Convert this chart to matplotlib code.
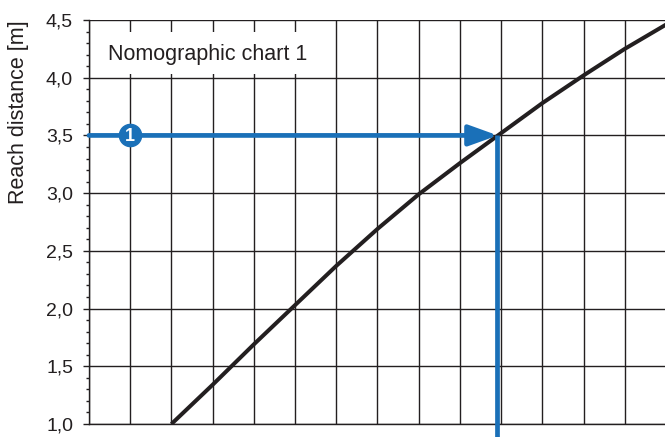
import numpy as np
import matplotlib
matplotlib.use("Agg")
import matplotlib.pyplot as plt
from matplotlib.ticker import MultipleLocator, FuncFormatter
from matplotlib.patches import Rectangle

plt.rcParams['font.family'] = ['Liberation Sans', 'DejaVu Sans']

# data
grid_x = list(range(0, 15))
curve_x = [2, 3, 4, 5, 6, 7, 8, 9, 10, 11, 12, 13, 14]
curve_y = [1.00, 1.34, 1.69, 2.03, 2.37, 2.69, 2.99, 3.26, 3.52, 3.78, 4.02, 4.25, 4.46]
read_y = 3.5       # reach distance entered
read_x = 9.92      # where it meets the curve
marker_x = 1
marker_label = "1"
title = "Nomographic chart 1"
ylabel = "Reach distance [m]"

DARK = '#231f20'
BLUE = '#1a70b8'

fig = plt.figure(figsize=(6.65, 4.37), dpi=100)
ax = fig.add_axes([89 / 665, 13 / 437, 577 / 665, 404 / 437])
ax.set_xlim(0, 14)
ax.set_ylim(1.0, 4.5)

# grid
ax.set_xticks(grid_x)
ax.yaxis.set_major_locator(MultipleLocator(0.5))
ax.yaxis.set_minor_locator(MultipleLocator(0.1))
ax.grid(True, which='major', color=DARK, lw=1.0, zorder=1)
ax.tick_params(axis='x', length=0, labelbottom=False)
ax.tick_params(axis='y', which='major', length=4.5, width=1.0, color=DARK,
               labelsize=14, pad=7, labelcolor=DARK)
ax.tick_params(axis='y', which='minor', length=2.5, width=1.0, color=DARK)
ax.yaxis.set_major_formatter(FuncFormatter(lambda v, p: f"{v:.1f}".replace('.', ',')))
for s in ['top', 'right']:
    ax.spines[s].set_visible(False)
for s in ['left', 'bottom']:
    ax.spines[s].set_color(DARK)
    ax.spines[s].set_linewidth(1.0)
ax.set_axisbelow(True)

# title box hides the grid
ax.add_patch(Rectangle((0.003, 0.866), 0.398, 0.104, transform=ax.transAxes,
                       facecolor='white', edgecolor='none', zorder=2))
ax.text(0.033, 0.915, title, transform=ax.transAxes, fontsize=15.5,
        color=DARK, va='center', ha='left', zorder=3)

ax.set_ylabel(ylabel, fontsize=15.5, color=DARK)
ax.yaxis.set_label_coords(-0.104, 0.772)

# the curve
ax.plot(curve_x, curve_y, color=DARK, lw=2.9, zorder=4, solid_capstyle='butt')

# blue reading path
ax.annotate('', xy=(read_x, read_y), xytext=(0, read_y),
            arrowprops=dict(arrowstyle='-|>,head_length=1.25,head_width=0.45',
                            mutation_scale=14, lw=3.4, color=BLUE,
                            shrinkA=0, shrinkB=0), zorder=5)
ax.plot([read_x - 0.03, read_x - 0.03], [read_y, 0.8], color=BLUE, lw=3.4,
        clip_on=False, zorder=5, solid_capstyle='butt')
ax.plot([marker_x], [read_y], 'o', ms=16, color=BLUE, zorder=6)
ax.text(marker_x, read_y - 0.005, marker_label, color='white', fontsize=13,
        fontweight='bold', ha='center', va='center', zorder=7)

fig.savefig('out.png', dpi=100)
